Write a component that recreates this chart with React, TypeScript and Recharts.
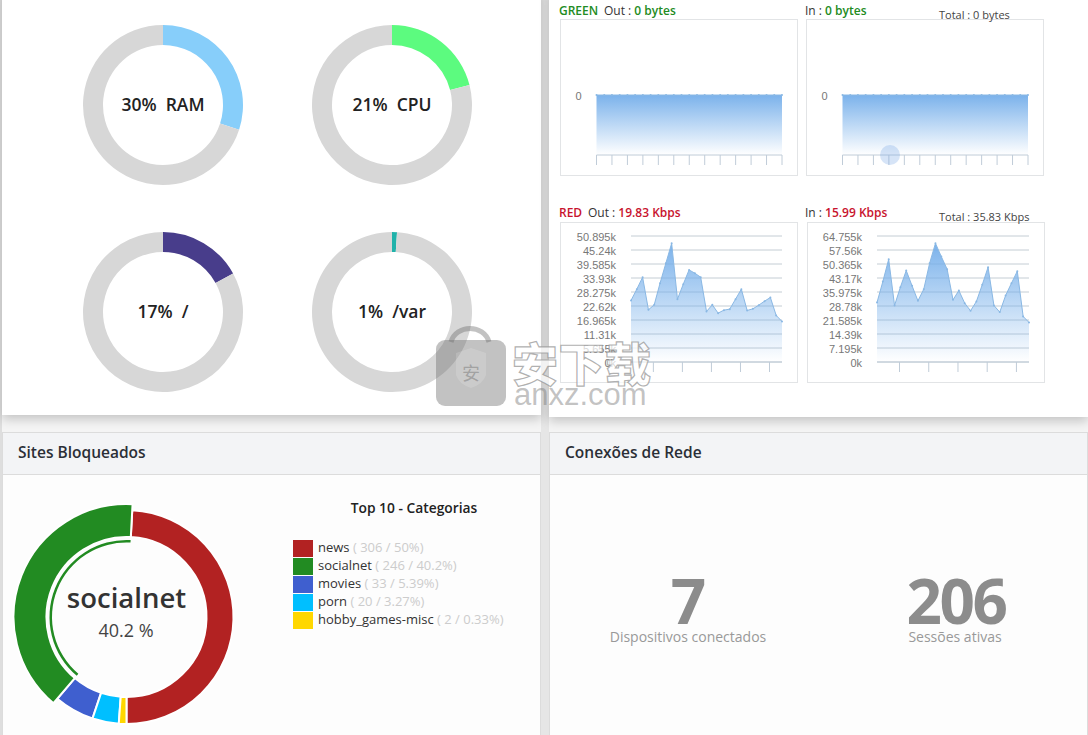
import { Area, AreaChart, CartesianGrid, Pie, PieChart, XAxis, YAxis } from 'recharts';

// Gauges
const gaugeLabels = ['30%  RAM', '21%  CPU', '17%  /', '1%  /var'];
const gaugeUsed = [30, 21, 17, 1];
const gaugeColors = ['#87cefa', '#5cfb7f', '#483d8b', '#20b2aa'];
const gaugeCenters = [[163, 105], [392, 105], [163, 312], [392, 312]];

// Traffic, red interface
const redOut = [24845, 29412, 34246, 21085, 23100, 31829, 39887, 47945, 25383, 31426, 37201, 35858, 34246, 20414, 23100, 19742, 20951, 21354, 25383, 29412, 20817, 21488, 22965, 24577, 26054, 18802, 16385];
const redIn = [30591, 41358, 52808, 29053, 38453, 46998, 39136, 31446, 37427, 50757, 61011, 54175, 47681, 31958, 36744, 30249, 26319, 31104, 39649, 48707, 29053, 25635, 34180, 40503, 46656, 23413, 20337];
const redOutTicks = [0, 5655, 11310, 16965, 22620, 28275, 33930, 39585, 45240, 50895];
const redInTicks = [0, 7195, 14390, 21585, 28780, 35975, 43170, 50365, 57560, 64755];
const redXTicks = [3.85, 8.85, 13.85, 18.85, 23.85];

// Traffic, green interface
const greenOut = [0, 0, 0, 0, 0, 0, 0, 0, 0, 0, 0, 0, 0, 0, 0, 0, 0, 0, 0, 0, 0, 0, 0, 0, 0];
const greenIn = [0, 0, 0, 0, 0, 0, 0, 0, 0, 0, 0, 0, 0, 0, 0, 0, 0, 0, 0, 0, 0, 0, 0, 0, 0];
const greenXTicks = [0, 2, 4, 6, 8, 10, 12, 14, 16, 18, 20, 22, 24];

// Blocked sites
const categories = ['news', 'socialnet', 'movies', 'porn', 'hobby_games-misc'];
const categoryCounts = [306, 246, 33, 20, 2];
const categoryPercents = ['50%', '40.2%', '5.39%', '3.27%', '0.33%'];
const categoryColors = ['#b22222', '#228b22', '#3f5fcf', '#00bfff', '#ffd700'];

const FONT = '"Open Sans", sans-serif';

const formatK = (v: number) => `${v / 1000}k`;

function Txt({ x, y, size = 12, color = '#333', weight = 400, align = 'left', family = FONT, spacing = 0, children }: any) {
  const tx = align === 'center' ? '-50%' : align === 'right' ? '-100%' : '0';
  return (
    <div style={{ position: 'absolute', left: x, top: y, transform: `translate(${tx}, -50%)`, fontSize: size, color, fontWeight: weight, fontFamily: family, letterSpacing: spacing, whiteSpace: 'pre', lineHeight: 1 }}>
      {children}
    </div>
  );
}

function Gauge({ index }: { index: number }) {
  const [cx, cy] = gaugeCenters[index];
  const rows = [
    { name: 'used', value: gaugeUsed[index], fill: gaugeColors[index] },
    { name: 'free', value: 100 - gaugeUsed[index], fill: '#d7d7d7' },
  ];
  return (
    <div style={{ position: 'absolute', left: cx - 90, top: cy - 90 }}>
      <PieChart width={180} height={180} margin={{ top: 0, right: 0, bottom: 0, left: 0 }}>
        <Pie data={rows} dataKey="value" cx={90} cy={90} innerRadius={60} outerRadius={80} startAngle={90} endAngle={-270} stroke="none" isAnimationActive={false} />
      </PieChart>
      <Txt x={90} y={90} size={17.5} weight={600} color="#222" align="center">{gaugeLabels[index]}</Txt>
    </div>
  );
}

interface TrafficProps {
  id: string;
  x: number;
  y: number;
  height: number;
  plotLeft: number;
  values: number[];
  yTicks: number[];
  xTicks: number[];
  domain: [number, number];
  grid?: boolean;
  base?: number;
}

function TrafficChart({ id, x, y, height, plotLeft, values, yTicks, xTicks, domain, grid, base }: TrafficProps) {
  const rows = values.map((v, i) => ({ t: i, v }));
  return (
    <div style={{ position: 'absolute', left: x, top: y, width: 238, height, boxSizing: 'border-box', outline: '1px solid #e2e4e6', outlineOffset: -1 }}>
      <AreaChart width={238} height={height} data={rows} margin={{ top: grid ? 14 : 16, right: 16, bottom: 0, left: 0 }}>
        <defs>
          <linearGradient id={id} x1="0" y1="0" x2="0" y2="1">
            <stop offset="0%" stopColor="#74aeea" stopOpacity={0.95} />
            <stop offset="100%" stopColor="#74aeea" stopOpacity={0} />
          </linearGradient>
        </defs>
        {grid && <CartesianGrid vertical={false} stroke="#c4cdd4" />}
        <XAxis dataKey="t" type="number" domain={[0, values.length - 1]} ticks={xTicks} interval={0} height={21} tickSize={10} tickFormatter={() => ''} stroke="#c0ccd8" />
        <YAxis type="number" domain={domain} ticks={yTicks} interval={0} width={plotLeft} axisLine={false} tickLine={false} tickSize={0} tickMargin={15} tickFormatter={grid ? formatK : undefined} tick={{ fontSize: 11, fill: '#777', dy: 1.5, fontFamily: '"Liberation Sans", Arial, sans-serif' }} />
        <Area dataKey="v" type="linear" stroke="#8ab8e4" strokeWidth={1} fill={`url(#${id})`} fillOpacity={1} baseValue={base} dot={{ r: 1, fill: '#8ab8e4', stroke: 'none' }} isAnimationActive={false} />
      </AreaChart>
    </div>
  );
}

function CategoryDonut() {
  const rows = (only: number | null, skip: number | null) =>
    categories.map((name, i) => {
      const hidden = (only !== null && i !== only) || i === skip;
      return {
        name,
        value: categoryCounts[i],
        fill: hidden ? 'transparent' : categoryColors[i],
        stroke: hidden ? 'transparent' : '#fff',
      };
    });
  // slices run counter-clockwise from the bottom of the ring, small ones get a minimum angle
  return (
    <div style={{ position: 'absolute', left: 6, top: 497 }}>
      <PieChart width={240} height={240} margin={{ top: 0, right: 0, bottom: 0, left: 0 }}>
        <Pie data={rows(null, 1)} dataKey="value" cx={120.5} cy={120} innerRadius={80} outerRadius={107} startAngle={-90} endAngle={270} minAngle={3} strokeWidth={2} isAnimationActive={false} />
        <Pie data={rows(1, null)} dataKey="value" cx={120.5} cy={120} innerRadius={80} outerRadius={113} startAngle={-90} endAngle={270} minAngle={3} strokeWidth={2} isAnimationActive={false} />
        <Pie data={rows(1, null)} dataKey="value" cx={120.5} cy={120} innerRadius={74.5} outerRadius={77} startAngle={-90} endAngle={270} minAngle={3} strokeWidth={0} isAnimationActive={false} />
      </PieChart>
    </div>
  );
}

function Panel({ x, y, w, h, shadow }: any) {
  return <div style={{ position: 'absolute', left: x, top: y, width: w, height: h, background: shadow ? '#fff' : '#fdfdfd', boxShadow: shadow ? '0 4px 10px rgba(0,0,0,0.2)' : 'none', outline: shadow ? 'none' : '1px solid #dcdcdc', outlineOffset: -1 }} />;
}

function Header({ x, w, children }: any) {
  return (
    <div style={{ position: 'absolute', left: x, top: 432, width: w, height: 43, boxSizing: 'border-box', background: '#f3f4f6', border: '1px solid #dcdcdc', fontFamily: FONT, fontSize: 15.5, fontWeight: 600, color: '#2b2f36', lineHeight: '39px', paddingLeft: 15 }}>
      {children}
    </div>
  );
}

function Watermark() {
  return (
    <>
      <svg width={80} height={90} style={{ position: 'absolute', left: 432, top: 322 }}>
        <path d="M19 20 C24 2 52 2 57 20" fill="none" stroke="rgba(110,110,110,0.42)" strokeWidth={5} />
        <rect x={4} y={18} width={70} height={66} rx={9} fill="rgba(110,110,110,0.42)" />
        <path d="M24 31 L39 26 L54 31 L54 53 Q51 62 39 66 Q27 62 24 53 Z" fill="rgba(255,255,255,0.16)" />
      </svg>
      <Txt x={471} y={372} size={18} color="rgba(110,110,110,0.45)" align="center" family='"Noto Sans CJK SC", sans-serif'>安</Txt>
      <Txt x={512} y={361} size={46} weight={900} color="rgba(255,255,255,0.72)" family='"Noto Sans CJK SC", sans-serif'>
        <span style={{ WebkitTextStroke: '1.2px rgba(150,150,150,0.75)', letterSpacing: 0.5 }}>安下载</span>
      </Txt>
      <Txt x={514} y={394} size={31} color="rgba(120,120,120,0.45)" family='"Liberation Sans", Arial, sans-serif'>anxz.com</Txt>
    </>
  );
}

export default function App() {
  return (
    <div style={{ position: 'absolute', left: 0, top: 0, width: 1088, height: 735, overflow: 'hidden', background: '#f4f4f4', fontFamily: FONT }}>
      <div style={{ position: 'absolute', left: 0, top: 0, width: 2, height: 735, background: '#dedede' }} />
      <div style={{ position: 'absolute', left: 541, top: 0, width: 8, height: 735, background: '#e6e6e6' }} />

      <Panel x={2} y={-10} w={539} h={425} shadow />
      <Panel x={549} y={-10} w={539} h={427} shadow />
      <Panel x={2} y={432} w={539} h={320} />
      <Panel x={549} y={432} w={539} h={320} />

      {gaugeLabels.map((_, i) => <Gauge key={i} index={i} />)}

      <TrafficChart id="gOut" x={560} y={19} height={157} plotLeft={36.5} values={greenOut} yTicks={[0]} xTicks={greenXTicks} domain={[-1, 1]} base={-1} />
      <TrafficChart id="gIn" x={806} y={19} height={157} plotLeft={36.5} values={greenIn} yTicks={[0]} xTicks={greenXTicks} domain={[-1, 1]} base={-1} />
      <div style={{ position: 'absolute', left: 880, top: 145, width: 20, height: 20, borderRadius: 10, background: 'rgba(120,165,230,0.3)' }} />
      <Txt x={559} y={11} weight={600} color="#228b22">GREEN</Txt>
      <Txt x={604} y={11}>Out : <span style={{ color: '#228b22', fontWeight: 600 }}>0 bytes</span></Txt>
      <Txt x={805} y={11}>In : <span style={{ color: '#228b22', fontWeight: 600 }}>0 bytes</span></Txt>
      <Txt x={939} y={14} size={11} color="#444">Total : 0 bytes</Txt>

      <TrafficChart id="rOut" x={560} y={222} height={161} plotLeft={71} values={redOut} yTicks={redOutTicks} xTicks={redXTicks} domain={[0, 50895]} grid />
      <TrafficChart id="rIn" x={807} y={222} height={161} plotLeft={70} values={redIn} yTicks={redInTicks} xTicks={redXTicks} domain={[0, 64755]} grid />
      <Txt x={559} y={213} weight={600} color="#c8142e">RED</Txt>
      <Txt x={588} y={213}>Out : <span style={{ color: '#c8142e', fontWeight: 600 }}>19.83 Kbps</span></Txt>
      <Txt x={805} y={213}>In : <span style={{ color: '#c8142e', fontWeight: 600 }}>15.99 Kbps</span></Txt>
      <Txt x={939} y={216} size={11} color="#444">Total : 35.83 Kbps</Txt>

      <Header x={2} w={539}>Sites Bloqueados</Header>
      <Header x={549} w={539}>Conexões de Rede</Header>

      <CategoryDonut />
      <Txt x={126.5} y={598} size={27.5} weight={600} color="#333" align="center">socialnet</Txt>
      <Txt x={126} y={630} size={18} color="#444" align="center">40.2 %</Txt>

      <Txt x={414} y={508} size={13.8} weight={600} color="#222" align="center">Top 10 - Categorias</Txt>
      {categories.map((name, i) => (
        <div key={name}>
          <div style={{ position: 'absolute', left: 293, top: 540 + i * 18, width: 20, height: 17, background: categoryColors[i] }} />
          <Txt x={318} y={547 + i * 18} size={13} color="#333">
            {name} <span style={{ color: '#ccc' }}>( {categoryCounts[i]} / {categoryPercents[i]})</span>
          </Txt>
        </div>
      ))}

      <Txt x={688.5} y={600} size={62} weight={700} color="#8c8c8c" align="center">7</Txt>
      <Txt x={956} y={600} size={62} weight={700} spacing={-2.5} color="#8c8c8c" align="center">206</Txt>
      <Txt x={688} y={637} size={14} color="#999" align="center">Dispositivos conectados</Txt>
      <Txt x={955} y={637} size={14} color="#999" align="center">Sessões ativas</Txt>

      <Watermark />
    </div>
  );
}
